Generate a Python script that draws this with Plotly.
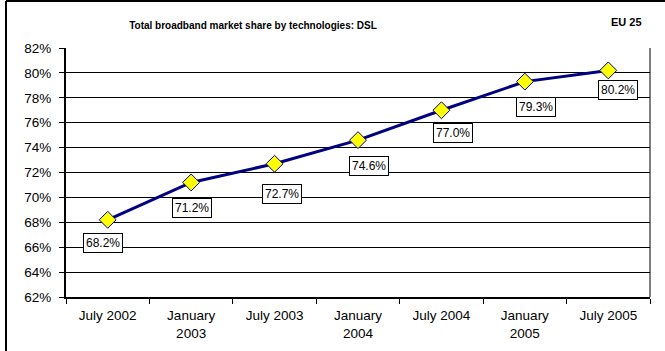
import plotly.graph_objects as go

# DSL share of total broadband lines, EU 25
periods = ["July 2002", "January<br>2003", "July 2003", "January<br>2004",
           "July 2004", "January<br>2005", "July 2005"]
dsl_share = [68.2, 71.2, 72.7, 74.6, 77.0, 79.3, 80.2]
y_ticks = [62, 64, 66, 68, 70, 72, 74, 76, 78, 80, 82]

# pixel nudges of the value boxes relative to their markers
label_dx = [-5, 1, 7, 11, 12, 11, 10]
label_dy = [-23, -26, -30, -26, -23, -25, -20]

FONT = "Liberation Sans, Arial, sans-serif"

fig = go.Figure()
fig.add_trace(go.Scatter(
    x=periods, y=dsl_share, mode="lines+markers",
    line=dict(color="#000080", width=3),
    marker=dict(symbol="diamond", size=13, color="#FFFF00",
                line=dict(color="#000080", width=1)),
    hoverinfo="skip", showlegend=False,
))

for p, v, dx, dy in zip(periods, dsl_share, label_dx, label_dy):
    fig.add_annotation(
        x=p, y=v, text=f"{v:.1f}%", showarrow=False,
        xshift=dx, yshift=dy,
        font=dict(family=FONT, size=12, color="black"),
        bgcolor="white", bordercolor="black", borderwidth=1, borderpad=2,
    )

L, R, T, B = 66, 15, 48, 54
W, H = 665, 351
pw, ph = W - L - R, H - T - B

fig.update_layout(
    width=W, height=H,
    margin=dict(l=L, r=R, t=T, b=B, autoexpand=False),
    paper_bgcolor="white", plot_bgcolor="white",
    font=dict(family=FONT, color="black"),
    title=dict(text="<b>Total broadband market share by technologies: DSL</b>",
               x=253 / W, xref="container", xanchor="center",
               y=1 - 25 / H, yref="container", yanchor="middle",
               font=dict(family=FONT, size=10, color="black")),
    xaxis=dict(
        type="category", range=[-0.5, 6.5], automargin=False,
        showgrid=False, showline=True, linecolor="black", linewidth=2,
        ticks="outside", tickson="boundaries", ticklen=5, tickcolor="black",
        tickfont=dict(family=FONT, size=13.5, color="black"),
        ticklabelstandoff=5,
    ),
    yaxis=dict(
        range=[62, 82], tickvals=y_ticks, automargin=False,
        ticktext=[f"{t}%" for t in y_ticks],
        showgrid=True, gridcolor="black", gridwidth=1,
        zeroline=False,
        showline=True, linecolor="black", linewidth=2,
        ticks="outside", ticklen=5, tickcolor="black",
        tickfont=dict(family=FONT, size=13.5, color="black"),
        ticklabelstandoff=5,
    ),
)

# EU 25 tag in the upper-right corner
fig.add_annotation(text="<b>EU 25</b>", xref="paper", yref="paper",
                   x=(626 - L) / pw, y=1 + (T - 22) / ph,
                   showarrow=False, xanchor="center", yanchor="middle",
                   font=dict(family=FONT, size=11, color="black"))

# right edge of the plot area
fig.add_shape(type="line", xref="paper", yref="paper",
              x0=1, x1=1, y0=0, y1=1, line=dict(color="black", width=1))

# outer chart frame (left and top edges)
fx = (6 - L) / pw
fy = 1 + (T - 1) / ph
fig.add_shape(type="line", xref="paper", yref="paper",
              x0=fx, x1=fx, y0=-2, y1=fy, line=dict(color="black", width=2))
fig.add_shape(type="line", xref="paper", yref="paper",
              x0=fx, x1=2, y0=fy, y1=fy, line=dict(color="black", width=2))

fig.write_html("out.html")
